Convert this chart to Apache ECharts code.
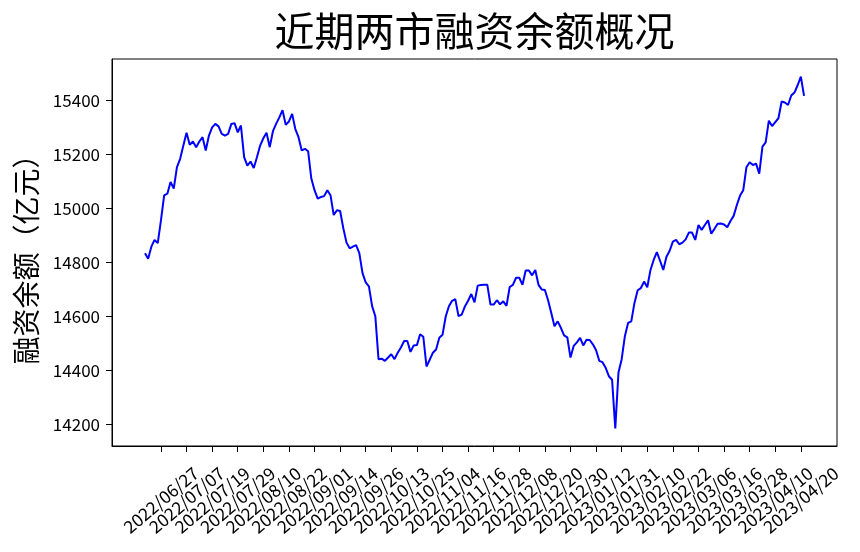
<!DOCTYPE html>
<html><head><meta charset="utf-8">
<script src="https://cdn.jsdelivr.net/npm/echarts@6/dist/echarts.min.js"></script>
<style>html,body{margin:0;padding:0;background:#fff}#c{width:860px;height:552px}</style>
</head><body><div id="c"></div>
<script>
const dates = [
'2022/06/20','2022/06/21','2022/06/22','2022/06/23','2022/06/24','2022/06/27','2022/06/28','2022/06/29','2022/06/30',
'2022/07/01','2022/07/04','2022/07/05','2022/07/06','2022/07/07','2022/07/08','2022/07/11','2022/07/12','2022/07/13','2022/07/14','2022/07/15','2022/07/18','2022/07/19','2022/07/20','2022/07/21','2022/07/22','2022/07/25','2022/07/26','2022/07/27','2022/07/28','2022/07/29',
'2022/08/01','2022/08/02','2022/08/03','2022/08/04','2022/08/05','2022/08/08','2022/08/09','2022/08/10','2022/08/11','2022/08/12','2022/08/15','2022/08/16','2022/08/17','2022/08/18','2022/08/19','2022/08/22','2022/08/23','2022/08/24','2022/08/25','2022/08/26','2022/08/29','2022/08/30','2022/08/31',
'2022/09/01','2022/09/02','2022/09/05','2022/09/06','2022/09/07','2022/09/08','2022/09/09','2022/09/13','2022/09/14','2022/09/15','2022/09/16','2022/09/19','2022/09/20','2022/09/21','2022/09/22','2022/09/23','2022/09/26','2022/09/27','2022/09/28','2022/09/29','2022/09/30',
'2022/10/10','2022/10/11','2022/10/12','2022/10/13','2022/10/14','2022/10/17','2022/10/18','2022/10/19','2022/10/20','2022/10/21','2022/10/24','2022/10/25','2022/10/26','2022/10/27','2022/10/28','2022/10/31',
'2022/11/01','2022/11/02','2022/11/03','2022/11/04','2022/11/07','2022/11/08','2022/11/09','2022/11/10','2022/11/11','2022/11/14','2022/11/15','2022/11/16','2022/11/17','2022/11/18','2022/11/21','2022/11/22','2022/11/23','2022/11/24','2022/11/25','2022/11/28','2022/11/29','2022/11/30',
'2022/12/01','2022/12/02','2022/12/05','2022/12/06','2022/12/07','2022/12/08','2022/12/09','2022/12/12','2022/12/13','2022/12/14','2022/12/15','2022/12/16','2022/12/19','2022/12/20','2022/12/21','2022/12/22','2022/12/23','2022/12/26','2022/12/27','2022/12/28','2022/12/29','2022/12/30',
'2023/01/03','2023/01/04','2023/01/05','2023/01/06','2023/01/09','2023/01/10','2023/01/11','2023/01/12','2023/01/13','2023/01/16','2023/01/17','2023/01/18','2023/01/19','2023/01/20','2023/01/30','2023/01/31',
'2023/02/01','2023/02/02','2023/02/03','2023/02/06','2023/02/07','2023/02/08','2023/02/09','2023/02/10','2023/02/13','2023/02/14','2023/02/15','2023/02/16','2023/02/17','2023/02/20','2023/02/21','2023/02/22','2023/02/23','2023/02/24','2023/02/27','2023/02/28',
'2023/03/01','2023/03/02','2023/03/03','2023/03/06','2023/03/07','2023/03/08','2023/03/09','2023/03/10','2023/03/13','2023/03/14','2023/03/15','2023/03/16','2023/03/17','2023/03/20','2023/03/21','2023/03/22','2023/03/23','2023/03/24','2023/03/27','2023/03/28','2023/03/29','2023/03/30','2023/03/31',
'2023/04/03','2023/04/04','2023/04/06','2023/04/07','2023/04/10','2023/04/11','2023/04/12','2023/04/13','2023/04/14','2023/04/17','2023/04/18','2023/04/19','2023/04/20','2023/04/21'
];
const balance = [
14834,14813,14858,14883,14871,14955,15048,15054,15097,15073,
15152,15183,15232,15279,15235,15247,15226,15247,15263,15214,
15269,15299,15312,15303,15275,15269,15275,15312,15315,15281,
15306,15189,15158,15173,15149,15189,15232,15259,15279,15226,
15285,15312,15336,15363,15309,15321,15349,15293,15263,15214,
15220,15211,15110,15067,15036,15042,15045,15067,15048,14975,
14993,14990,14926,14873,14852,14858,14864,14834,14760,14726,
14711,14638,14601,14442,14444,14436,14448,14460,14442,14466,
14485,14509,14509,14469,14493,14494,14534,14525,14415,14440,
14466,14478,14521,14532,14600,14638,14658,14664,14601,14607,
14637,14658,14683,14652,14714,14716,14717,14717,14644,14644,
14660,14645,14656,14639,14709,14717,14743,14743,14717,14770,
14770,14752,14772,14717,14700,14698,14660,14613,14564,14582,
14558,14530,14523,14448,14491,14504,14521,14493,14514,14513,
14497,14475,14436,14431,14410,14379,14366,14186,14393,14442,
14527,14576,14582,14650,14697,14705,14729,14708,14772,14809,
14838,14806,14772,14821,14843,14877,14883,14867,14873,14885,
14910,14910,14883,14938,14920,14938,14956,14906,14924,14943,
14944,14940,14930,14953,14972,15012,15047,15067,15152,15170,
15160,15165,15128,15228,15244,15324,15304,15319,15333,15395,
15391,15382,15417,15428,15455,15487,15416
];
const xTickLabels = ['2022/06/27','2022/07/07','2022/07/19','2022/07/29','2022/08/10','2022/08/22','2022/09/01','2022/09/14','2022/09/26','2022/10/13','2022/10/25','2022/11/04','2022/11/16','2022/11/28','2022/12/08','2022/12/20','2022/12/30','2023/01/12','2023/01/31','2023/02/10','2023/02/22','2023/03/06','2023/03/16','2023/03/28','2023/04/10','2023/04/20'];
const yTicks = [14200,14400,14600,14800,15000,15200,15400];

const FONT = '"Noto Sans CJK SC", "Noto Sans", sans-serif';
const xTickIdx = xTickLabels.map(d => dates.indexOf(d));
const evenIdx = xTickIdx.filter((_, k) => k % 2 === 0);
const oddIdx = xTickIdx.filter((_, k) => k % 2 === 1);
const n = dates.length;
const xPad = (n - 1) * 0.05;
const ymin = Math.min(...balance), ymax = Math.max(...balance);
const yPad = (ymax - ymin) * 0.05;

const labelStyle = {
  formatter: v => dates[Math.round(v)],
  showMinLabel: true, showMaxLabel: true, hideOverlap: false,
  rotate: 40, align: 'center', verticalAlign: 'middle', margin: 54,
  fontFamily: FONT, fontSize: 17.5, color: '#000'
};

const chart = echarts.init(document.getElementById('c'), null, {renderer: 'canvas'});
chart.setOption({
  animation: false,
  backgroundColor: '#fff',
  title: {
    text: '近期两市融资余额概况', left: 474.5, top: 11, padding: 0, textAlign: 'center',
    textStyle: {fontFamily: FONT, fontSize: 40, fontWeight: 'normal', color: '#000'}
  },
  grid: {left: 112, right: 23, top: 59, bottom: 106, show: true, borderColor: '#000', borderWidth: 1},
  xAxis: [{
    type: 'value', position: 'bottom', min: -xPad, max: n - 1 + xPad,
    splitLine: {show: false},
    axisLine: {show: true, onZero: false, lineStyle: {color: '#000', width: 1}},
    axisTick: {show: true, length: 6, customValues: xTickIdx, lineStyle: {color: '#000'}},
    axisLabel: Object.assign({customValues: evenIdx}, labelStyle)
  }, {
    type: 'value', position: 'bottom', offset: 0, min: -xPad, max: n - 1 + xPad,
    splitLine: {show: false},
    axisLine: {show: false, onZero: false},
    axisTick: {show: false},
    axisLabel: Object.assign({customValues: oddIdx}, labelStyle)
  }],
  yAxis: {
    type: 'value', min: ymin - yPad, max: ymax + yPad,
    name: '融资余额（亿元）', nameLocation: 'middle', nameGap: 72, nameRotate: 90,
    nameTextStyle: {fontFamily: FONT, fontSize: 28, color: '#000'},
    splitLine: {show: false},
    axisLine: {show: true, onZero: false, lineStyle: {color: '#000', width: 1}},
    axisTick: {show: true, length: 6, customValues: yTicks, lineStyle: {color: '#000'}},
    axisLabel: {customValues: yTicks, formatter: v => String(Math.round(v)), showMinLabel: true, showMaxLabel: true, margin: 12, fontFamily: FONT, fontSize: 17, color: '#000'}
  },
  series: [{
    type: 'line', xAxisIndex: 0, data: balance.map((v, i) => [i, v]),
    symbol: 'none', showSymbol: false,
    lineStyle: {color: '#0000ff', width: 2}, itemStyle: {color: '#0000ff'}
  }]
});
</script>
</body></html>
